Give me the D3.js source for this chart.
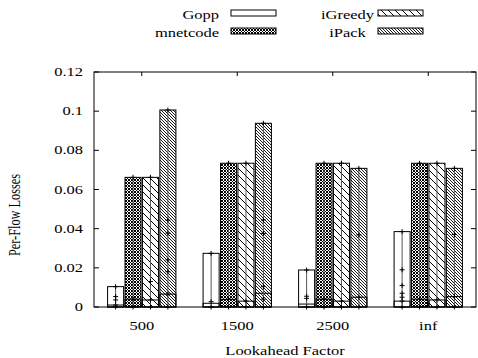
<!DOCTYPE html>
<html><head><meta charset="utf-8">
<script src="https://cdn.jsdelivr.net/npm/d3@7"></script>
<style>body{margin:0;background:#fff}svg{display:block}
text{font-family:'Liberation Serif','Times New Roman',Times,serif;}</style>
</head><body>
<svg id="c" width="478" height="358"></svg>
<script>
// ---- data ----
const categories = ["500", "1500", "2500", "inf"];
const series = ["Gopp", "mnetcode", "iGreedy", "iPack"];
const gopp     = [0.0104, 0.0274, 0.0189, 0.0385];
const mnetcode = [0.0662, 0.0734, 0.0734, 0.0734];
const igreedy  = [0.0662, 0.0734, 0.0734, 0.0734];
const ipack    = [0.1006, 0.0938, 0.0708, 0.0708];
// inner (lower) box values
const goppLow     = [0.0010, 0.0019, 0.0015, 0.0030];
const mnetcodeLow = [0.0040, 0.0039, 0.0040, 0.0040];
const igreedyLow  = [0.0036, 0.0030, 0.0030, 0.0036];
const ipackLow    = [0.0066, 0.0070, 0.0050, 0.0053];
// individual sample points
const goppPts     = [[0,0.001,0.0036,0.0053,0.0104],[0,0.0027,0.0274],[0,0.0044,0.0055,0.0189],[0,0.003,0.005,0.007,0.011,0.019,0.0385]];
const mnetcodePts = [[0,0.004,0.0662],[0,0.004,0.0734],[0,0.004,0.0734],[0,0.004,0.0734]];
const igreedyPts  = [[0,0.0036,0.013,0.0662],[0,0.003,0.0734],[0,0.003,0.0734],[0,0.0036,0.0734]];
const ipackPts    = [[0,0.0066,0.018,0.024,0.0377,0.0444,0.1006],[0,0.004,0.0104,0.0376,0.0444,0.0938],[0,0.005,0.0368,0.0708],[0,0.0053,0.037,0.0708]];
const yTicks = [0, 0.02, 0.04, 0.06, 0.08, 0.1, 0.12];
const yTickLabels = ["0", "0.02", "0.04", "0.06", "0.08", "0.1", "0.12"];

const values = [gopp, mnetcode, igreedy, ipack];
const lows = [goppLow, mnetcodeLow, igreedyLow, ipackLow];
const pts = [goppPts, mnetcodePts, igreedyPts, ipackPts];

// ---- layout ----
const L = 94, R = 476, T = 72, B = 307;
const FS = 12.3, SX = 1.34;
const svg = d3.select("#c");

const defs = svg.append("defs");
const pWhite = defs.append("pattern").attr("id","p0").attr("patternUnits","userSpaceOnUse").attr("width",4).attr("height",4);
pWhite.append("rect").attr("width",4).attr("height",4).attr("fill","#fff");
const pCheck = defs.append("pattern").attr("id","p1").attr("patternUnits","userSpaceOnUse").attr("width",3).attr("height",3);
pCheck.append("rect").attr("width",3).attr("height",3).attr("fill","#fff");
pCheck.append("path").attr("d","M-1,-1L4,4M-1,2L1,4M2,-1L4,1M4,-1L-1,4M1,-1L-1,1M4,2L2,4").attr("stroke","#000").attr("stroke-width",1.0);
const pSparse = defs.append("pattern").attr("id","p2").attr("patternUnits","userSpaceOnUse").attr("width",7).attr("height",7);
pSparse.append("rect").attr("width",7).attr("height",7).attr("fill","#fff");
pSparse.append("path").attr("d","M-1,-1L8,8M-1,6L1,8M6,-1L8,1").attr("stroke","#000").attr("stroke-width",1);
const pDense = defs.append("pattern").attr("id","p3").attr("patternUnits","userSpaceOnUse").attr("width",3).attr("height",3);
pDense.append("rect").attr("width",3).attr("height",3).attr("fill","#fff");
pDense.append("path").attr("d","M-1,-1L4,4M-1,2L1,4M2,-1L4,1").attr("stroke","#000").attr("stroke-width",0.9);
const fills = ["url(#p0)","url(#p1)","url(#p2)","url(#p3)"];

const x0 = d3.scaleBand().domain(categories).range([L, R]).padding(0);
const x1 = d3.scaleBand().domain(series).range([0, x0.bandwidth()]).paddingInner(0.08).paddingOuter(0.78);
const y = d3.scaleLinear().domain([0, 0.12]).range([B, T]);

function txt(g, x, yy, s, anchor, rot) {
  return g.append("text")
    .attr("transform", `translate(${x},${yy}) scale(${SX},1)` + (rot ? " rotate(-90)" : ""))
    .attr("text-anchor", anchor).style("font-size", FS + "px")
    .attr("fill", "#000").text(s);
}

// bars
const gBars = svg.append("g");
series.forEach((s, j) => {
  categories.forEach((c, i) => {
    const bx = x0(c) + x1(s), bw = x1.bandwidth(), cx = bx + bw / 2;
    const v = values[j][i];
    gBars.append("rect").attr("x", bx).attr("y", y(v)).attr("width", bw).attr("height", y(0) - y(v))
      .attr("fill", fills[j]).attr("stroke", "#000").attr("stroke-width", 1);
    const lo = lows[j][i];
    gBars.append("rect").attr("x", bx).attr("y", y(lo)).attr("width", bw).attr("height", y(0) - y(lo))
      .attr("fill", "none").attr("stroke", "#000").attr("stroke-width", 1);
    gBars.append("line").attr("x1", cx).attr("x2", cx).attr("y1", y(0)).attr("y2", y(v))
      .attr("stroke", "#555").attr("stroke-width", 1);
    pts[j][i].forEach(p => {
      const py = y(p);
      gBars.append("path").attr("d", `M${cx-2.5},${py}H${cx+2.5}M${cx},${py-2.5}V${py+2.5}`)
        .attr("stroke", "#000").attr("stroke-width", 1);
    });
  });
});

// axes frame
const gAx = svg.append("g").attr("stroke", "#000").attr("stroke-width", 1).attr("fill", "none");
gAx.append("rect").attr("x", L).attr("y", T).attr("width", R - L).attr("height", B - T);
yTicks.forEach((t, k) => {
  gAx.append("line").attr("x1", L).attr("x2", L + 5).attr("y1", y(t)).attr("y2", y(t));
  gAx.append("line").attr("x1", R).attr("x2", R - 5).attr("y1", y(t)).attr("y2", y(t));
  txt(svg, 83, y(t) + 4, yTickLabels[k], "end");
});
categories.forEach(c => {
  const cx = x0(c) + x0.bandwidth() / 2;
  gAx.append("line").attr("x1", cx).attr("x2", cx).attr("y1", T).attr("y2", T + 4);
  gAx.append("line").attr("x1", cx).attr("x2", cx).attr("y1", B).attr("y2", B - 4);
  txt(svg, cx, 329.5, c, "middle");
});

// axis titles
txt(svg, 285, 355, "Lookahead Factor", "middle");
txt(svg, 20, 215, "Per-Flow Losses", "middle", true);

// legend
const legCols = [{textX: 219, anchor: "end", boxX: 231}, {textX: 347.5, anchor: "middle", boxX: 378}];
const legRows = [13, 31];
series.forEach((s, j) => {
  const col = legCols[Math.floor(j / 2)], ry = legRows[j % 2];
  txt(svg, col.textX, ry + 5.5, s, col.anchor);
  svg.append("rect").attr("x", col.boxX).attr("y", ry - 3).attr("width", 45).attr("height", 6)
    .attr("fill", fills[j]).attr("stroke", "#000").attr("stroke-width", 1);
});
</script>
</body></html>
